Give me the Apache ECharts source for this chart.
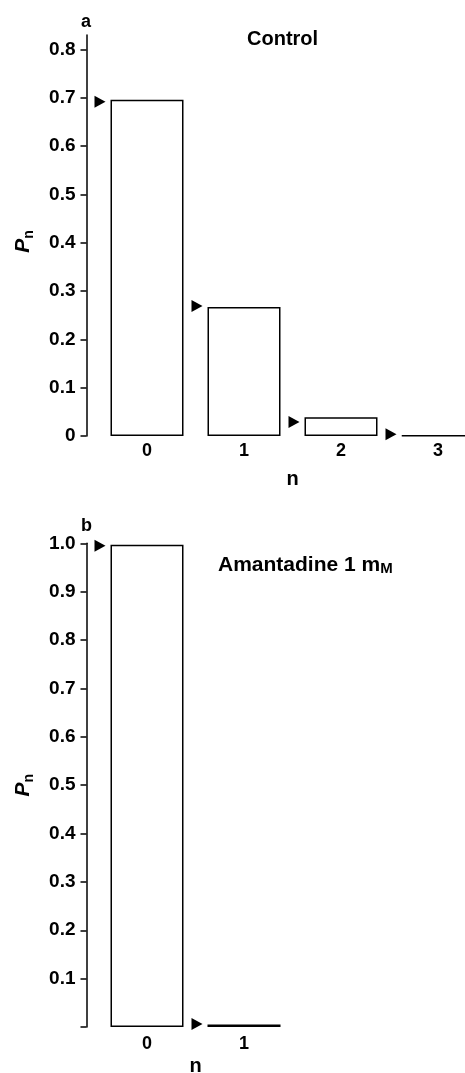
<!DOCTYPE html>
<html>
<head>
<meta charset="utf-8">
<script src="https://cdn.jsdelivr.net/npm/echarts@6/dist/echarts.min.js"></script>
<style>
html, body { margin: 0; padding: 0; background: #fff; }
#chart { width: 465px; height: 1073px; }
</style>
</head>
<body>
<div id="chart"></div>
<script>
// panel a - control
var catsA = ['0', '1', '2', '3'];
var observedA = [0.696, 0.267, 0.039, 0.001];
var predictedA = [0.692, 0.269, 0.029, 0.0035];
var ticksA = [0, 0.1, 0.2, 0.3, 0.4, 0.5, 0.6, 0.7, 0.8];

// panel b - amantadine 1 mM
var catsB = ['0', '1'];
var observedB = [0.997, 0.005];
var predictedB = [0.995, 0.006];
var ticksB = [0, 0.1, 0.2, 0.3, 0.4, 0.5, 0.6, 0.7, 0.8, 0.9, 1.0];
var labelsB = ticksB.filter(v => v !== 0);

var FONT = 'Liberation Sans';
var black = '#000';

function yAxisOf(idx, max, ticks, labels, namePad) {
    return {
        type: 'value', gridIndex: idx, min: 0, max: max, offset: 12,
        axisLine: { show: true, lineStyle: { color: black, width: 1.5 } },
        axisTick: { show: true, length: 6, customValues: ticks, lineStyle: { color: black, width: 1.5 } },
        axisLabel: {
            customValues: labels, margin: 11, color: black, fontSize: 19, fontWeight: 'bold', fontFamily: FONT,
            formatter: v => v === 0 ? '0' : v.toFixed(1)
        },
        splitLine: { show: false },
        name: '{p|P}{s|n}', nameLocation: 'middle', nameRotate: 90, nameGap: 50,
        nameTextStyle: {
            padding: namePad,
            rich: {
                p: { fontSize: 21, fontStyle: 'italic', fontWeight: 'bold', fontFamily: FONT, color: black, verticalAlign: 'top', lineHeight: 24 },
                s: { fontSize: 14, fontWeight: 'bold', fontFamily: FONT, color: black, verticalAlign: 'bottom', lineHeight: 24 }
            }
        }
    };
}

function xAxisOf(idx, cats, margin, gap) {
    return {
        type: 'category', gridIndex: idx, data: cats,
        axisLine: { show: false }, axisTick: { show: false },
        axisLabel: { margin: margin, color: black, fontSize: 18, fontWeight: 'bold', fontFamily: FONT },
        name: 'n', nameLocation: 'middle', nameGap: gap,
        nameTextStyle: { color: black, fontSize: 20, fontWeight: 'bold', fontFamily: FONT }
    };
}

function bars(idx, values) {
    return {
        type: 'bar', xAxisIndex: idx, yAxisIndex: idx, data: values, barWidth: 73,
        itemStyle: { color: '#fff', borderColor: black, borderWidth: 1.5 },
        silent: true, animation: false
    };
}

function arrows(idx, values) {
    return {
        type: 'scatter', xAxisIndex: idx, yAxisIndex: idx, data: values,
        symbol: 'triangle', symbolSize: [12, 11], symbolRotate: -90, symbolOffset: [-47, 0],
        itemStyle: { color: black, opacity: 1 }, silent: true, animation: false, z: 5
    };
}

var chart = echarts.init(document.getElementById('chart'), null, { renderer: 'canvas' });
chart.setOption({
    backgroundColor: '#fff',
    animation: false,
    title: [
        { text: 'a', left: 76, top: 8, textStyle: { fontSize: 18, fontWeight: 'bold', fontFamily: FONT, color: black } },
        { text: 'Control', left: 242, top: 24, textStyle: { fontSize: 20, fontWeight: 'bold', fontFamily: FONT, color: black } },
        { text: 'b', left: 76, top: 512, textStyle: { fontSize: 18, fontWeight: 'bold', fontFamily: FONT, color: black } },
        {
            text: 'Amantadine 1 m{sc|M}', left: 213, top: 550,
            textStyle: {
                fontSize: 21, fontWeight: 'bold', fontFamily: FONT, color: black,
                rich: { sc: { fontSize: 15, fontWeight: 'bold', fontFamily: FONT, color: black, verticalAlign: 'bottom' } }
            }
        }
    ],
    grid: [
        { left: 98.5, top: 35, width: 388, height: 401, outerBoundsMode: 'none' },
        { left: 98.5, top: 543.3, width: 194, height: 483.7, outerBoundsMode: 'none' }
    ],
    xAxis: [xAxisOf(0, catsA, 6, 33), xAxisOf(1, catsB, 8, 29)],
    yAxis: [
        yAxisOf(0, 0.83, ticksA, ticksA, [0, 12, 0, 0]),
        yAxisOf(1, 1.0, ticksB, labelsB, 0)
    ],
    series: [
        bars(0, observedA), arrows(0, predictedA),
        bars(1, observedB), arrows(1, predictedB)
    ]
});
</script>
</body>
</html>
